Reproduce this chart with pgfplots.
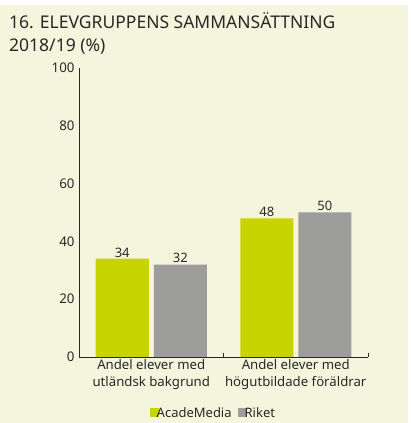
\documentclass[border=0pt]{standalone}
\usepackage{fontspec}
\setmainfont{Noto Sans}
\usepackage{pgfplots}
\pgfplotsset{compat=1.18}
\definecolor{bgcream}{RGB}{245,245,221}
\definecolor{acadelime}{RGB}{200,212,0}
\definecolor{riketgray}{RGB}{157,157,156}
\definecolor{txtgray}{RGB}{40,40,40}

\begin{document}
\begin{tikzpicture}[x=1pt,y=1pt]
\fill[white] (0,0) rectangle (411,423);
\fill[bgcream] (0,0) rectangle (408,418);
\path[use as bounding box] (0,0) rectangle (411,423);
\node[anchor=base west, font=\fontsize{17.5}{19}\selectfont, text=txtgray, inner sep=0]
  at (9,394) {16. ELEVGRUPPENS SAMMANSÄTTNING};
\node[anchor=base west, font=\fontsize{17.5}{19}\selectfont, text=txtgray, inner sep=0]
  at (9,371) {2018/19 (\%)};
\begin{axis}[
  at={(79pt,66pt)}, anchor=south west,
  scale only axis,
  width=289pt, height=289pt,
  xmin=-0.5, xmax=1.5,
  ymin=0, ymax=100,
  axis lines*=left,
  axis line style={txtgray, line width=0.8pt},
  ybar=5pt, bar width=53pt,
  xtick={0,1},
  xticklabels={{Andel elever med\\utländsk bakgrund},{Andel elever med\\högutbildade föräldrar}},
  xticklabel style={align=center, font=\fontsize{13.2}{17}\selectfont, text=txtgray, yshift=1pt},
  extra x ticks={0.5,1.5},
  extra x tick labels={},
  extra x tick style={major tick length=4pt, tick style={txtgray, line width=0.8pt}},
  ytick={0,20,40,60,80,100},
  yticklabel style={font=\fontsize{13.3}{14}\selectfont, text=txtgray, xshift=-1pt},
  /pgf/number format/assume math mode=true,
  major tick length=0pt,
  tick align=inside,
  nodes near coords,
  every node near coord/.append style={font=\fontsize{13}{14}\selectfont, text=txtgray, yshift=-2pt},
  legend style={at={(0.465,-0.195)}, anchor=center, draw=none, fill=none,
    legend columns=2, font=\fontsize{13}{14}\selectfont, text=txtgray,
    /tikz/every even column/.append style={column sep=4pt}},
  legend image code/.code={\fill[#1] (0pt,-4pt) rectangle (9pt,5pt);},
  legend cell align=left,
]
\addplot[fill=acadelime, draw=none] coordinates {(0,34) (1,48)};
\addlegendentry{\hspace{-4pt}AcadeMedia}
\addplot[fill=riketgray, draw=none] coordinates {(0,32) (1,50)};
\addlegendentry{\hspace{-4pt}Riket}
\end{axis}
\end{tikzpicture}
\end{document}
